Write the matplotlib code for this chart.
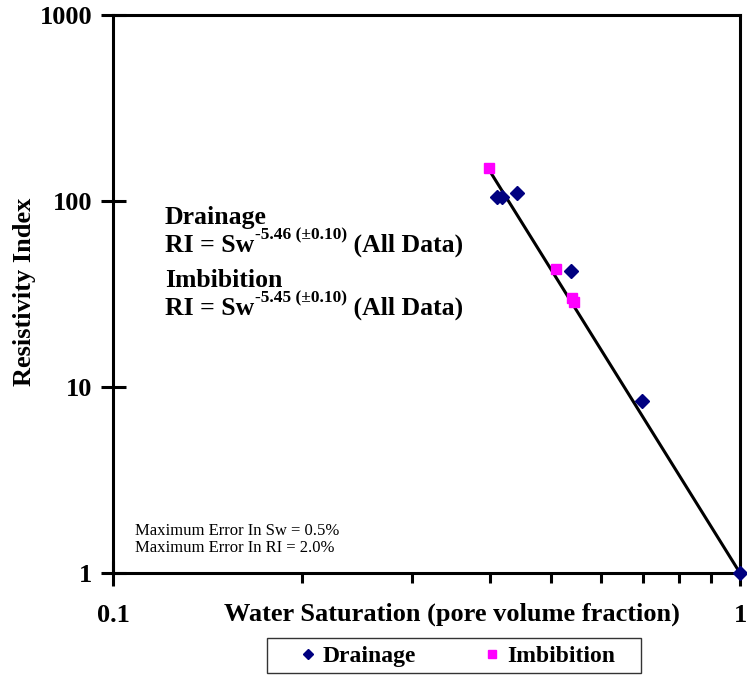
import matplotlib.pyplot as plt
from matplotlib.patches import Rectangle
from matplotlib.ticker import FixedLocator, NullFormatter, NullLocator

plt.rcParams['font.family'] = ['Liberation Serif', 'DejaVu Serif']

# data
drain_sw = [0.409, 0.417, 0.441, 0.537, 0.697, 1.0]
drain_ri = [105, 105, 111, 42, 8.4, 1.0]
imb_sw = [0.398, 0.508, 0.539, 0.543]
imb_ri = [150, 43, 30, 28.7]
fit_sw = [0.395, 1.0]
fit_ri = [153, 1.0]

W, H = 747, 677
fig = plt.figure(figsize=(W / 100, H / 100), dpi=100)
ax = fig.add_axes([113 / W, (H - 573) / H, (740 - 113) / W, (573 - 15) / H])

ax.plot(fit_sw, fit_ri, color='black', lw=2.2, zorder=2)
ax.plot(drain_sw, drain_ri, 'D', color='#000080', ms=7, ls='none',
        label='Drainage', zorder=3, clip_on=False)
ax.plot(imb_sw, imb_ri, 's', color='#ff00ff', ms=7.5, ls='none',
        label='Imbibition', zorder=3, clip_on=False)

ax.set_xscale('log')
ax.set_yscale('log')
ax.set_xlim(0.1, 1)
ax.set_ylim(1, 1000)

for s in ax.spines.values():
    s.set_linewidth(2.2)

ax.xaxis.set_major_locator(FixedLocator([0.1, 1]))
ax.xaxis.set_minor_locator(FixedLocator([0.2, 0.3, 0.4, 0.5, 0.6, 0.7, 0.8, 0.9]))
ax.xaxis.set_minor_formatter(NullFormatter())
ax.set_xticklabels(['0.1', '1'])
ax.yaxis.set_major_locator(FixedLocator([1, 10, 100, 1000]))
ax.yaxis.set_minor_locator(NullLocator())
ax.set_yticklabels(['1', '10', '100', '1000'])

ax.tick_params(axis='both', which='major', direction='inout', length=18, width=2.2,
               labelsize=19, pad=6)
ax.tick_params(axis='x', which='major', pad=13)
ax.tick_params(axis='x', which='minor', direction='out', length=7, width=2.2)
for lab in ax.get_xticklabels() + ax.get_yticklabels():
    lab.set_fontweight('bold')


def px(x, y):
    return x / W, 1 - y / H


fig.text(*px(452, 621), 'Water Saturation (pore volume fraction)', ha='center',
         va='baseline', fontsize=19, fontweight='bold')
fig.text(*px(25, 292), 'Resistivity Index', ha='center', va='center',
         rotation=90, fontsize=19, fontweight='bold')

# equation block
rend = fig.canvas.get_renderer()


def eq_line(y, exponent):
    t1 = fig.text(*px(165, y), 'RI = Sw', va='baseline', fontsize=18.5,
                  fontweight='bold')
    x1 = t1.get_window_extent(rend).x1 + 1
    t2 = fig.text(*px(x1, y - 13), exponent, va='baseline', fontsize=12.5,
                  fontweight='bold')
    x2 = t2.get_window_extent(rend).x1
    fig.text(*px(x2, y), ' (All Data)', va='baseline', fontsize=18.5,
             fontweight='bold')


fig.text(*px(165, 224), 'Drainage', va='baseline', fontsize=18.5, fontweight='bold')
eq_line(252, '-5.46 (\u00b10.10)')
fig.text(*px(165, 287), 'Imbibition', va='baseline', fontsize=18.5, fontweight='bold')
eq_line(315, '-5.45 (\u00b10.10)')

fig.text(*px(135, 531), 'Maximum Error In Sw = 0.5%', va='center', fontsize=12)
fig.text(*px(135, 548), 'Maximum Error In RI = 2.0%', va='center', fontsize=12)

# legend box below the axes
fig.add_artist(Rectangle(px(267, 673), (641 - 267) / W, (673 - 638) / H,
                         transform=fig.transFigure, facecolor='white',
                         edgecolor='#333333', lw=1.0))
fig.legend(handles=ax.get_lines()[1:], loc='center', bbox_to_anchor=px(458, 656),
           ncol=2, frameon=False, prop={'weight': 'bold', 'size': 17},
           handlelength=0.6, handletextpad=0.35, columnspacing=2.9,
           borderpad=0, markerscale=0.75)

fig.savefig('out.png', dpi=100)
